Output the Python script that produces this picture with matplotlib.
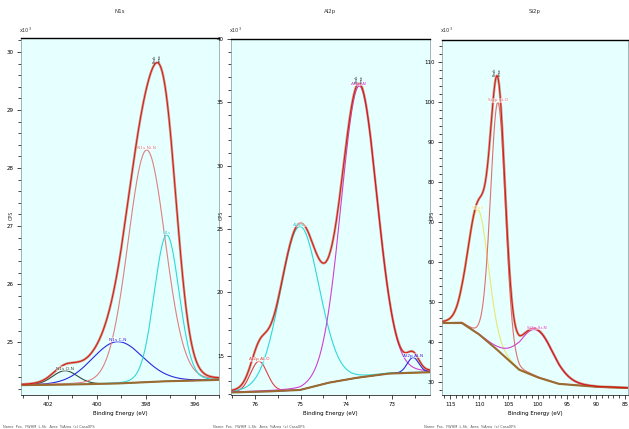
import matplotlib

matplotlib.use("Agg")

import matplotlib.pyplot as plt
from matplotlib.ticker import AutoMinorLocator, FormatStrFormatter, MultipleLocator
import numpy as np

# fitted XPS components: (label, centre eV, height x10^3, fwhm eV, colour)
N1S_PEAKS = [
    ("N1s O-N", 401.3, 0.24, 1.2, "#2f4f3f"),
    ("N1s C-N", 399.15, 0.72, 2.45, "#2a2ae0"),
    ("N1s Ni-N", 397.96, 4.0, 1.8, "#e08080"),
    ("N1s", 397.14, 2.52, 1.2, "#30d8d8"),
]
N1S_BASE_E = [403.1, 401.0, 399.0, 397.0, 395.0]
N1S_BASE_Y = [24.26, 24.27, 24.29, 24.33, 24.35]

AL2P_PEAKS = [
    ("Al2p Al-O", 75.91, 2.4, 0.43, "#e04040"),
    ("Al2p2", 75.02, 12.9, 1.0, "#30d8d8"),
    ("Al2p Al", 73.72, 23.0, 0.93, "#d040d0"),
    ("Al2p Al-N", 72.54, 1.2, 0.30, "#2a2ae0"),
]
AL2P_BASE_E = [76.52, 75.55, 75.0, 74.35, 73.7, 73.05, 72.17]
AL2P_BASE_Y = [12.1, 12.2, 12.3, 12.9, 13.3, 13.6, 13.7]

SI2P_PEAKS = [
    ("Si2p3", 110.2, 31.0, 4.2, "#e8e870"),
    ("Si2p Si-O", 106.8, 62.0, 3.0, "#e07070"),
    ("Si2p Si-N", 100.2, 11.7, 6.8, "#d040d0"),
]
SI2P_BASE_E = [116.4, 113.0, 109.9, 106.5, 103.1, 99.7, 96.3, 89.5, 84.5]
SI2P_BASE_Y = [44.75, 44.75, 41.75, 37.5, 33.0, 31.0, 29.5, 28.75, 28.5]

PANELS = [
    dict(peaks=N1S_PEAKS, base_e=N1S_BASE_E, base_y=N1S_BASE_Y, xlim=(403.1, 395.0),
         ylim=(24.09, 30.24), xmaj=2, xmin=1, ymaj=1, title="N1s", box=(21, 219, 38, 395)),
    dict(peaks=AL2P_PEAKS, base_e=AL2P_BASE_E, base_y=AL2P_BASE_Y, xlim=(76.52, 72.17),
         ylim=(11.9, 40.0), xmaj=1, xmin=0.5, ymaj=5, title="Al2p", box=(231, 430, 39, 395)),
    dict(peaks=SI2P_PEAKS, base_e=SI2P_BASE_E, base_y=SI2P_BASE_Y, xlim=(116.4, 84.5),
         ylim=(26.75, 115.5), xmaj=5, xmin=1, ymaj=10, title="Si2p", box=(442, 628, 40, 395)),
]

W, H = 629, 429


def pseudo_voigt(e, centre, height, fwhm, eta=0.06):
    x = (e - centre) / fwhm
    gauss = np.exp(-4.0 * np.log(2.0) * x ** 2)
    lorentz = 1.0 / (1.0 + 4.0 * x ** 2)
    return height * ((1.0 - eta) * gauss + eta * lorentz)


def draw_panel(fig, cfg):
    left, right, top, bottom = cfg["box"]
    ax = fig.add_axes([left / W, 1 - bottom / H, (right - left) / W, (bottom - top) / H])
    ax.set_facecolor("#e6ffff")

    lo, hi = sorted(cfg["xlim"])
    energy = np.linspace(lo, hi, 600)
    base = np.interp(energy, cfg["base_e"][::-1], cfg["base_y"][::-1])

    total = np.zeros_like(energy)
    for label, centre, height, fwhm, color in cfg["peaks"]:
        comp = pseudo_voigt(energy, centre, height, fwhm)
        total += comp
        ax.plot(energy, base + comp, color=color, lw=0.8)
        ax.text(centre, base[np.argmin(abs(energy - centre))] + comp.max(), label,
                color=color, fontsize=3.2, ha="center", va="bottom",
                bbox=dict(boxstyle="square,pad=0.1", fc="white", ec="none", alpha=0.5))

    ax.plot(energy, base, color="#9a6a30", lw=1.5)
    ax.plot(energy, base + total, color="#b06040", lw=1.8, alpha=0.6)
    ax.plot(energy, base + total, color="#e01010", lw=0.7)

    ipk = np.argmax(total)
    ax.text(energy[ipk], base[ipk] + total[ipk], "Peak\nmax", fontsize=2.5, ha="center",
            va="bottom", rotation=90, color="#202020")

    ax.set_xlim(cfg["xlim"])
    ax.set_ylim(cfg["ylim"])
    ax.xaxis.set_major_locator(MultipleLocator(cfg["xmaj"]))
    ax.xaxis.set_minor_locator(MultipleLocator(cfg["xmin"]))
    ax.yaxis.set_major_locator(MultipleLocator(cfg["ymaj"]))
    ax.yaxis.set_minor_locator(AutoMinorLocator(5))
    ax.tick_params(which="both", labelsize=4, length=3, width=0.5, direction="out", pad=2)
    ax.tick_params(which="minor", length=2)
    ax.xaxis.set_major_formatter(FormatStrFormatter("%g"))
    ax.set_xlabel("Binding Energy (eV)", fontsize=4, labelpad=3)
    for spine in ax.spines.values():
        spine.set_linewidth(0.5)
        spine.set_color("#7a9a9a")
    ax.spines["top"].set_color("black")
    ax.spines["top"].set_linewidth(1.0)
    ax.spines["bottom"].set_color("black")

    cx = (left + right) / 2 / W
    fig.text(cx, 1 - 13 / H, cfg["title"], fontsize=4, ha="center", color="#333333")
    fig.text((left - 2) / W, 1 - 33 / H, r"x10$^3$", fontsize=3.5, color="#333333")
    fig.text((left - 18) / W, 1 - 428 / H,
             "Name  Pos.  FWHM  L.Sh.  Area  %Area  (c) CasaXPS", fontsize=2.5, color="#555555")
    fig.text((left - 12) / W, 1 - 215 / H, "CPS", fontsize=3.5, rotation=90,
             va="center", color="#333333")
    return ax


def main():
    fig = plt.figure(figsize=(W / 100, H / 100), dpi=100)
    fig.patch.set_facecolor("white")
    for cfg in PANELS:
        draw_panel(fig, cfg)
    fig.savefig("out.png", dpi=100)
    plt.close(fig)


if __name__ == "__main__":
    main()
